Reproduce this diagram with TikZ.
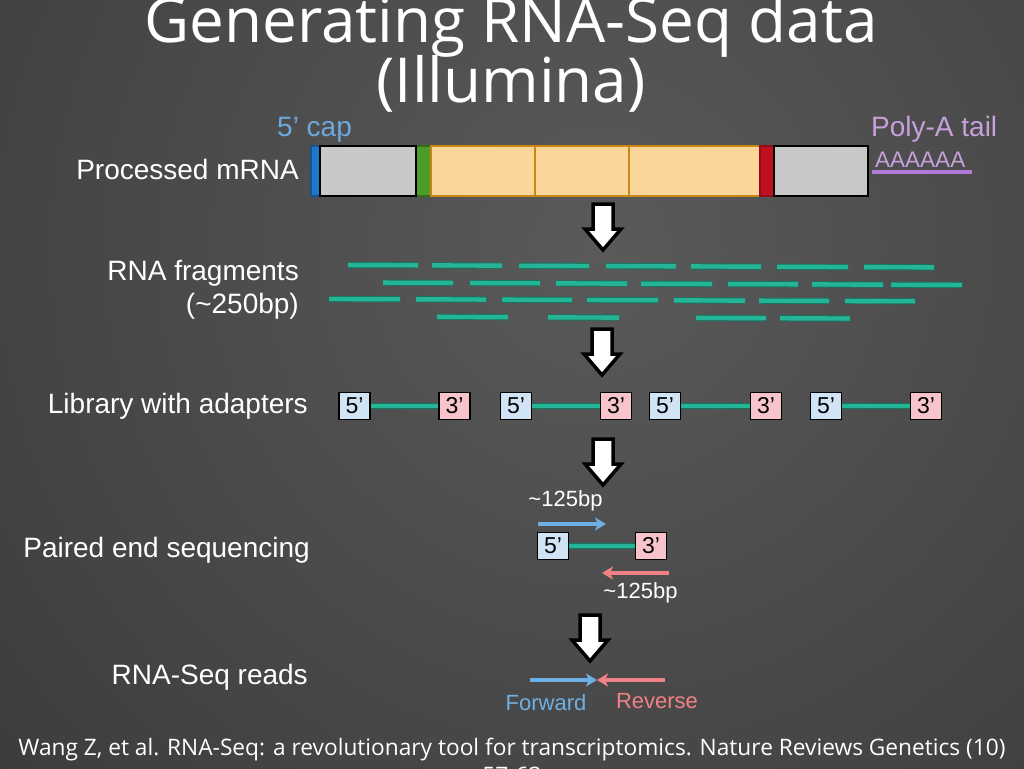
\documentclass[tikz,border=0pt]{standalone}
\usepackage{fontspec}
\setmainfont{Liberation Sans}
\newfontfamily\titlefont{Open Sans}
\usetikzlibrary{arrows.meta}
\definecolor{bgin}{RGB}{90,90,90}
\definecolor{bgout}{RGB}{30,30,30}
\definecolor{capblue}{RGB}{111,168,220}
\definecolor{capbar}{RGB}{30,120,200}
\definecolor{polyA}{RGB}{200,160,220}
\definecolor{polyline}{RGB}{178,122,214}
\definecolor{utrgray}{RGB}{200,200,200}
\definecolor{exgreen}{RGB}{78,154,42}
\definecolor{cdsfill}{RGB}{251,213,154}
\definecolor{cdsedge}{RGB}{200,136,20}
\definecolor{stopred}{RGB}{192,16,32}
\definecolor{tealdark}{RGB}{18,118,98}
\definecolor{teallight}{RGB}{38,180,150}
\definecolor{fiveblue}{RGB}{208,228,245}
\definecolor{threepink}{RGB}{246,196,202}
\definecolor{seqblue}{RGB}{111,176,228}
\definecolor{seqred}{RGB}{240,130,134}
\pgfdeclareradialshading{bgshade}{\pgfpoint{0bp}{0bp}}{color(0bp)=(bgin); color(50bp)=(bgout)}
\tikzset{
  lbl/.style={text=white, font=\fontsize{28}{32}\selectfont, anchor=base east, inner sep=0pt},
  seg/.style={minimum height=50pt, inner sep=0pt, line width=1.5pt},
  frag/.style={line width=0.9pt, draw=tealdark, double=teallight, double distance=4.4pt},
  adapt/.style={draw=black, line width=1.6pt, minimum width=31pt, minimum height=27pt, inner sep=0pt, font=\fontsize{23}{26}\selectfont, text=black},
  five/.style={adapt, fill=fiveblue},
  three/.style={adapt, fill=threepink},
  small/.style={font=\fontsize{22}{26}\selectfont, inner sep=0pt, anchor=base},
  titletext/.style={text=white, font=\titlefont\fontsize{62}{66}\selectfont, anchor=base, inner sep=0pt},
  citetext/.style={text=white, font=\titlefont\fontsize{22.7}{26}\selectfont, anchor=base, inner sep=0pt},
  bluearr/.style={line width=4pt, draw=seqblue, -{Stealth[length=11pt, width=13pt, inset=3pt]}},
  redarr/.style={line width=4pt, draw=seqred, -{Stealth[length=11pt, width=13pt, inset=3pt]}},
  blockdown/.pic={\draw[line width=3.5pt, fill=white, line join=miter, miter limit=10]
      (-10,0) -- (10,0) -- (10,25) -- (18,25) -- (0,46) -- (-18,25) -- (-10,25) -- cycle;}
}
\begin{document}
\begin{tikzpicture}[x=1pt,y=-1pt]
\useasboundingbox (0,0) rectangle (1024,768);
\clip (0,0) rectangle (1024,768);
\fill[bgout] (0,0) rectangle (1024,768);
\shade[shading=bgshade] (600,250) circle (800);

% title
\node[titletext] (title1) at (511,43) {Generating RNA-Seq data};
\node[titletext] (title2) at (511,102) {(Illumina)};

% row labels
\node[lbl] (lmrna) at (299,179) {Processed mRNA};
\node[lbl] (lfrag) at (299,280) {RNA fragments};
\node[lbl] (lfrag2) at (299,313) {(\textasciitilde250bp)};
\node[lbl] (llib) at (308,413) {Library with adapters};
\node[lbl] (lpair) at (310,557) {Paired end sequencing};
\node[lbl] (lreads) at (308,684) {RNA-Seq reads};

% mRNA
\node[lbl, anchor=base west, text=capblue] (capl) at (277,136) {5’ cap};
\node[lbl, anchor=base west, text=polyA] (polyl) at (871,136) {Poly-A tail};
\node[anchor=base west, inner sep=0pt, text=polyA, font=\fontsize{22.5}{26}\selectfont] (aaa) at (875,167) {AAAAAA};
\draw[polyline, line width=4pt] (872,172) -- (972,172);

\node[seg, fill=capbar, draw=capbar!70!black, minimum width=9pt] (cap) at (315.5,171) {};
\node[seg, fill=exgreen, draw=exgreen!70!black, minimum width=15pt] (gr) at (423.5,171) {};
\node[seg, fill=cdsfill, draw=cdsedge, minimum width=329pt] (cds) at (595.5,171) {};
\draw[cdsedge, line width=2pt] (535,146) -- (535,196);
\draw[cdsedge, line width=2pt] (629,146) -- (629,196);
\node[seg, fill=stopred, draw=stopred!75!black, minimum width=14pt] (stop) at (767,171) {};
\node[seg, fill=utrgray, draw=black, minimum width=96pt] (utr5) at (368,171) {};
\node[seg, fill=utrgray, draw=black, minimum width=94pt] (utr3) at (821,171) {};

% block arrows
\pic (a1) at (603,204) {blockdown};
\pic (a2) at (602,329) {blockdown};
\pic (a3) at (603,439) {blockdown};
\pic (a4) at (590,615) {blockdown};

% fragments
\foreach \a/\b in {348/418,432/502,519/589,606/676,691/761,777/848,864/934}
  \draw[frag] (\a,{265+(\a-340)*0.004}) -- (\b,{265+(\b-340)*0.004});
\foreach \a/\b in {383/453,470/540,556/627,641/712,728/798,812/883,891/962}
  \draw[frag] (\a,{282.5+(\a-340)*0.004}) -- (\b,{282.5+(\b-340)*0.004});
\foreach \a/\b in {329/400,416/486,502/572,587/658,674/745,759/829,845/915}
  \draw[frag] (\a,{299+(\a-340)*0.004}) -- (\b,{299+(\b-340)*0.004});
\foreach \a/\b in {437/508,548/619,696/766,780/850}
  \draw[frag] (\a,{316.5+(\a-340)*0.004}) -- (\b,{316.5+(\b-340)*0.004});

% library with adapters
\foreach \f/\t [count=\i] in {354.5/454.5,516/616,665/766,826/926}{
  \node[five] (f\i) at (\f,406) {5’};
  \node[three] (t\i) at (\t,406) {3’};
  \draw[frag] (f\i.east) -- (t\i.west);
}

% paired end sequencing
\node[small, text=white] (bp1) at (565.5,506) {\textasciitilde125bp};
\coordinate (fs) at (538,524);
\coordinate (fe) at (606,524);
\draw[bluearr] (fs) -- (fe);
\node[five] (pf) at (553,546) {5’};
\node[three] (pt) at (651,546) {3’};
\draw[frag] (pf.east) -- (pt.west);
\coordinate (rs) at (669,573);
\coordinate (re) at (602,573);
\draw[redarr] (rs) -- (re);
\node[small, text=white] (bp2) at (640.5,598) {\textasciitilde125bp};

% reads
\coordinate (meet) at (597,680);
\coordinate (fwdstart) at (530,680);
\coordinate (revstart) at (665,680);
\draw[bluearr] (fwdstart) -- (meet);
\draw[redarr] (revstart) -- (meet);
\node[small, text=seqblue] (fwd) at (546,710) {Forward};
\node[small, text=seqred] (rev) at (657,708) {Reverse};

% citation
\node[citetext] (cite1) at (512,755) {Wang Z, et al. RNA-Seq: a revolutionary tool for transcriptomics. Nature Reviews Genetics (10)};
\node[citetext] (cite2) at (512,783) {57-63};
\end{tikzpicture}
\end{document}
